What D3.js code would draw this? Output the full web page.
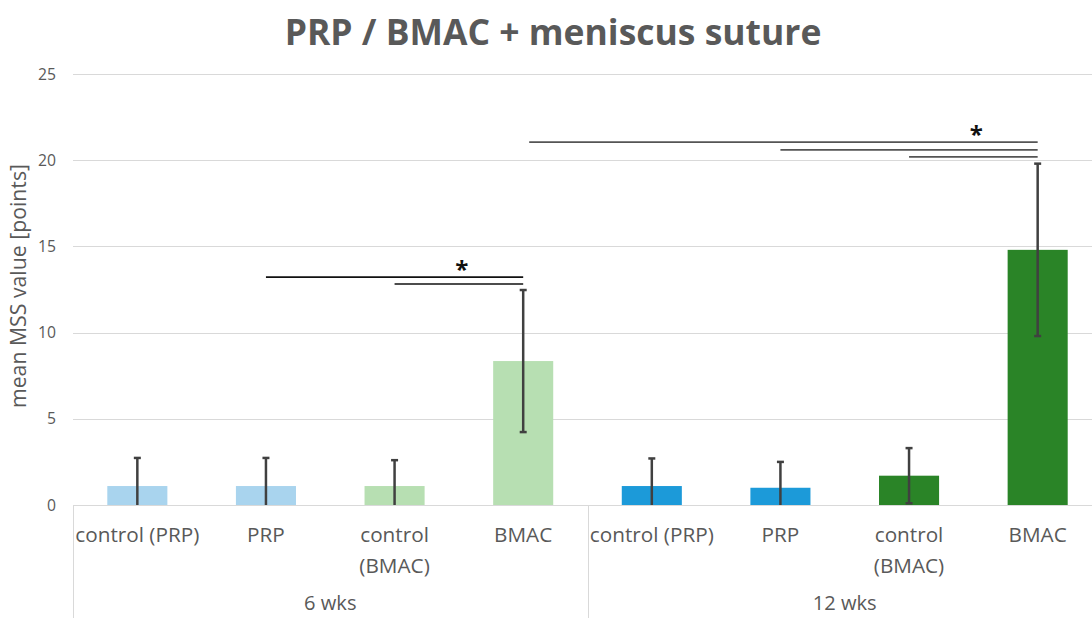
<!DOCTYPE html>
<html>
<head>
<meta charset="utf-8">
<script src="https://cdn.jsdelivr.net/npm/d3@7"></script>
<style>
  html, body { margin: 0; padding: 0; background: #fff; }
  svg { display: block; font-family: "Open Sans", "Noto Sans", sans-serif; }
</style>
</head>
<body>
<svg id="chart" width="1092" height="618"></svg>
<script>
// ---- data ----
const title = "PRP / BMAC + meniscus suture";
const yLabel = "mean MSS value [points]";
const groups = ["6 wks", "12 wks"];
const categories = ["control (PRP)", "PRP", "control (BMAC)", "BMAC"];
const categoryLines = [["control (PRP)"], ["PRP"], ["control", "(BMAC)"], ["BMAC"]];
const means6 = [1.1, 1.1, 1.1, 8.35];
const sd6 = [1.63, 1.63, 1.5, 4.12];
const means12 = [1.1, 1.0, 1.7, 14.8];
const sd12 = [1.6, 1.5, 1.6, 5.0];
const colors6 = ["#a9d4ee", "#a9d4ee", "#b7dfb2", "#b7dfb2"];
const colors12 = ["#1c9ad9", "#1c9ad9", "#2a8427", "#2a8427"];
const yTicks = [0, 5, 10, 15, 20, 25];
// significance brackets: [from group, from cat, to group, to cat, y value]
const brackets = [
  ["6 wks", "PRP", "6 wks", "BMAC", 13.22],
  ["6 wks", "control (BMAC)", "6 wks", "BMAC", 12.82],
  ["6 wks", "BMAC", "12 wks", "BMAC", 21.05],
  ["12 wks", "PRP", "12 wks", "BMAC", 20.6],
  ["12 wks", "control (BMAC)", "12 wks", "BMAC", 20.19]
];
const stars = [["6 wks", "control (BMAC)", "6 wks", "BMAC", 13.95], ["12 wks", "control (BMAC)", "12 wks", "BMAC", 21.75]];

// ---- build ----
const rows = [];
groups.forEach((g, gi) => {
  const m = gi === 0 ? means6 : means12;
  const s = gi === 0 ? sd6 : sd12;
  const c = gi === 0 ? colors6 : colors12;
  categories.forEach((cat, ci) => rows.push({ key: g + "|" + cat, group: g, cat, ci, mean: m[ci], sd: s[ci], color: c[ci] }));
});

const svg = d3.select("#chart");
const pLeft = 73, pRight = 1102, pTop = 74, pBottom = 505;
const x = d3.scaleBand().domain(rows.map(d => d.key)).range([pLeft, pRight]).paddingInner(0.533).paddingOuter(0.2667);
const y = d3.scaleLinear().domain([0, 25]).range([pBottom, pTop]);
const grey = "#595959";
const halfGap = (x.step() - x.bandwidth()) / 2;

// helper: font size that makes a string a given width
function fitSize(str, target, weight) {
  const tmp = svg.append("text").attr("font-size", 20).attr("font-weight", weight || "normal").text(str);
  const w = tmp.node().getComputedTextLength();
  tmp.remove();
  return 20 * target / w;
}
const catSize = fitSize("control (PRP)", 124);
const tickSize = fitSize("25", 18);
const ylabSize = fitSize(yLabel, 244);

// gridlines
svg.append("g").selectAll("line").data(yTicks).join("line")
  .attr("x1", pLeft).attr("x2", 1092)
  .attr("y1", d => Math.round(y(d)) + 0.5).attr("y2", d => Math.round(y(d)) + 0.5)
  .attr("stroke", "#d9d9d9").attr("stroke-width", 1);

// y tick labels via axis
const yAxis = svg.append("g").attr("transform", `translate(${pLeft},0)`)
  .call(d3.axisLeft(y).tickValues(yTicks).tickSize(0).tickPadding(17));
yAxis.select(".domain").remove();
yAxis.selectAll("text").attr("fill", grey).attr("font-size", tickSize).attr("font-family", "Open Sans");

// y label
svg.append("text").attr("transform", `translate(26,286) rotate(-90)`)
  .attr("text-anchor", "middle").attr("fill", grey).attr("font-size", ylabSize).text(yLabel);

// bars
svg.append("g").selectAll("rect").data(rows).join("rect")
  .attr("x", d => x(d.key)).attr("width", x.bandwidth())
  .attr("y", d => y(d.mean)).attr("height", d => y(0) - y(d.mean))
  .attr("fill", d => d.color);

// category axis lines
svg.append("line").attr("x1", pLeft).attr("x2", 1092).attr("y1", pBottom + 0.5).attr("y2", pBottom + 0.5)
  .attr("stroke", "#d9d9d9");
const groupEdges = [pLeft, x(groups[1] + "|" + categories[0]) - halfGap, pRight];
svg.append("g").selectAll("line").data(groupEdges).join("line")
  .attr("x1", d => Math.round(d) + 0.5).attr("x2", d => Math.round(d) + 0.5)
  .attr("y1", pBottom).attr("y2", 618).attr("stroke", "#d9d9d9");

// error bars
const eb = svg.append("g").attr("stroke", "#404040").attr("stroke-width", 2.5);
rows.forEach(d => {
  const cx = x(d.key) + x.bandwidth() / 2;
  const lo = Math.max(0, d.mean - d.sd), hi = d.mean + d.sd;
  eb.append("line").attr("x1", cx).attr("x2", cx).attr("y1", y(lo)).attr("y2", y(hi));
  eb.append("line").attr("x1", cx - 3.5).attr("x2", cx + 3.5).attr("y1", y(hi)).attr("y2", y(hi));
  if (d.mean - d.sd > 0) eb.append("line").attr("x1", cx - 3.5).attr("x2", cx + 3.5).attr("y1", y(lo)).attr("y2", y(lo));
});

// category labels
const cl = svg.append("g").attr("fill", grey).attr("font-size", catSize).attr("text-anchor", "middle");
rows.forEach(d => {
  const cx = x(d.key) + x.bandwidth() / 2;
  categoryLines[d.ci].forEach((ln, i) => cl.append("text").attr("x", cx).attr("y", 542 + i * 31).text(ln));
});
// group labels
groups.forEach(g => {
  const a = x(g + "|" + categories[0]) - halfGap;
  const b = x(g + "|" + categories[3]) + x.bandwidth() + halfGap;
  svg.append("text").attr("x", (a + b) / 2).attr("y", 610).attr("text-anchor", "middle")
    .attr("fill", grey).attr("font-size", catSize * 0.97).text(g);
});

// significance brackets
const cxOf = (g, c) => x(g + "|" + c) + x.bandwidth() / 2;
svg.append("g").selectAll("line").data(brackets).join("line")
  .attr("x1", d => cxOf(d[0], d[1]) + (d[0] !== d[2] ? 6 : 0)).attr("x2", d => cxOf(d[2], d[3]))
  .attr("y1", d => y(d[4])).attr("y2", d => y(d[4]))
  .attr("stroke", (d, i) => i < 2 ? "#111" : "#555").attr("stroke-width", 1.6);
svg.append("g").selectAll("text").data(stars).join("text")
  .attr("x", d => (cxOf(d[0], d[1]) + cxOf(d[2], d[3])) / 2 + 3)
  .attr("y", d => y(d[4]) + 13)
  .attr("text-anchor", "middle").attr("font-weight", "bold").attr("font-size", 24).attr("fill", "#111").text("*");

// title
const t = svg.append("text").attr("x", 553).attr("y", 45).attr("text-anchor", "middle")
  .attr("font-weight", "bold").attr("fill", grey).attr("font-size", 34).text(title);
const w = t.node().getComputedTextLength();
t.attr("font-size", 34 * 537 / w);
</script>
</body>
</html>
